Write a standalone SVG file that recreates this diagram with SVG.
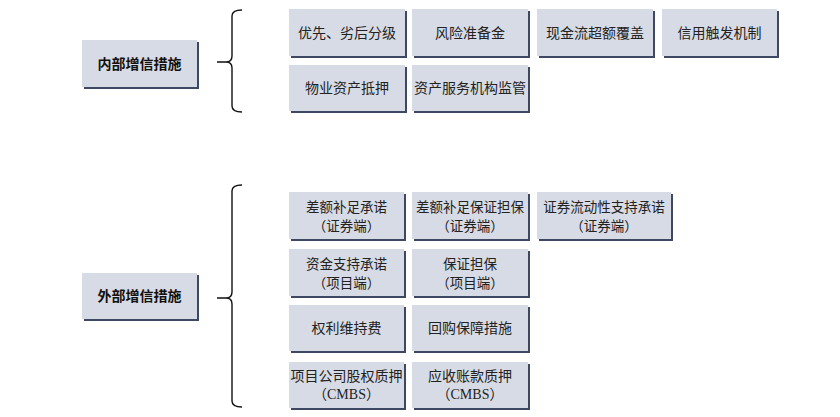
<svg xmlns="http://www.w3.org/2000/svg" width="840" height="417" viewBox="0 0 840 417">
<defs>
<style>
.sh{fill:#3e4862}
.bx{fill:#d7dbe5}
.t{font-family:"Noto Sans CJK SC","Noto Sans",sans-serif;font-size:14px;fill:#222;text-anchor:middle}
.t2{font-family:"Noto Sans CJK SC","Noto Sans",sans-serif;font-size:13.5px;fill:#222;text-anchor:middle}
.tb{font-family:"Noto Sans CJK SC","Noto Sans",sans-serif;font-size:14px;font-weight:bold;fill:#111;text-anchor:middle}
.tc{font-family:"Liberation Serif","Noto Sans CJK SC",serif;font-size:14px;fill:#222;text-anchor:middle}
.br{fill:none;stroke:#111;stroke-width:1.4}
</style>
</defs>
<rect width="840" height="417" fill="#ffffff"/>
<g id="connectors">
<path class="br" d="M242,10 Q232,10 232,16 L232,56 Q232,62 226,62 L217,62 L226,62 Q232,62 232,68 L232,106 Q232,112 242,112"/>
<path class="br" d="M242,185 Q232,185 232,191 L232,292 Q232,298 226,298 L217,298 L226,298 Q232,298 232,304 L232,401 Q232,407 242,407"/>
</g>
<g id="n_internal"><rect class="sh" x="84" y="42" width="115" height="47"/><rect class="bx" x="82" y="40" width="115" height="47"/><text class="tb" x="139.5" y="68.5">内部增信措施</text></g>
<g id="n_i1"><rect class="sh" x="291" y="11" width="116" height="47"/><rect class="bx" x="289" y="9" width="116" height="47"/><text class="t" x="347" y="37.5">优先、劣后分级</text></g>
<g id="n_i2"><rect class="sh" x="414" y="11" width="116" height="47"/><rect class="bx" x="412" y="9" width="116" height="47"/><text class="t" x="470" y="37.5">风险准备金</text></g>
<g id="n_i3"><rect class="sh" x="539" y="11" width="116" height="47"/><rect class="bx" x="537" y="9" width="116" height="47"/><text class="t" x="595" y="37.5">现金流超额覆盖</text></g>
<g id="n_i4"><rect class="sh" x="664" y="11" width="115" height="47"/><rect class="bx" x="662" y="9" width="115" height="47"/><text class="t" x="719.5" y="37.5">信用触发机制</text></g>
<g id="n_i5"><rect class="sh" x="291" y="67" width="116" height="46"/><rect class="bx" x="289" y="65" width="116" height="46"/><text class="t" x="347" y="93">物业资产抵押</text></g>
<g id="n_i6"><rect class="sh" x="414" y="67" width="116" height="46"/><rect class="bx" x="412" y="65" width="116" height="46"/><text class="t" x="470" y="93">资产服务机构监管</text></g>
<g id="n_external"><rect class="sh" x="84" y="275" width="115" height="46"/><rect class="bx" x="82" y="273" width="115" height="46"/><text class="tb" x="139.5" y="301">外部增信措施</text></g>
<g id="n_e1"><rect class="sh" x="291" y="194" width="115" height="47"/><rect class="bx" x="289" y="192" width="115" height="47"/><text class="t2" x="346.5" y="211.5">差额补足承诺</text><text class="t2" x="346.5" y="231.2">（证券端）</text></g>
<g id="n_e2"><rect class="sh" x="414" y="194" width="116" height="47"/><rect class="bx" x="412" y="192" width="116" height="47"/><text class="t2" x="470" y="211.5">差额补足保证担保</text><text class="t2" x="470" y="231.2">（证券端）</text></g>
<g id="n_e3"><rect class="sh" x="539" y="194" width="134" height="47"/><rect class="bx" x="537" y="192" width="134" height="47"/><text class="t2" x="604" y="211.5">证券流动性支持承诺</text><text class="t2" x="604" y="231.2">（证券端）</text></g>
<g id="n_e4"><rect class="sh" x="291" y="251" width="115" height="47"/><rect class="bx" x="289" y="249" width="115" height="47"/><text class="t2" x="346.5" y="268.5">资金支持承诺</text><text class="t2" x="346.5" y="288.2">（项目端）</text></g>
<g id="n_e5"><rect class="sh" x="414" y="251" width="116" height="47"/><rect class="bx" x="412" y="249" width="116" height="47"/><text class="t2" x="470" y="268.5">保证担保</text><text class="t2" x="470" y="288.2">（项目端）</text></g>
<g id="n_e6"><rect class="sh" x="291" y="307" width="115" height="46"/><rect class="bx" x="289" y="305" width="115" height="46"/><text class="t" x="346.5" y="333">权利维持费</text></g>
<g id="n_e7"><rect class="sh" x="414" y="307" width="116" height="46"/><rect class="bx" x="412" y="305" width="116" height="46"/><text class="t" x="470" y="333">回购保障措施</text></g>
<g id="n_e8"><rect class="sh" x="291" y="364" width="115" height="46"/><rect class="bx" x="289" y="362" width="115" height="46"/><text class="t" x="346.5" y="381">项目公司股权质押</text><text class="tc" x="346.5" y="399">（CMBS）</text></g>
<g id="n_e9"><rect class="sh" x="414" y="364" width="116" height="46"/><rect class="bx" x="412" y="362" width="116" height="46"/><text class="t" x="470" y="381">应收账款质押</text><text class="tc" x="470" y="399">（CMBS）</text></g>
</svg>
